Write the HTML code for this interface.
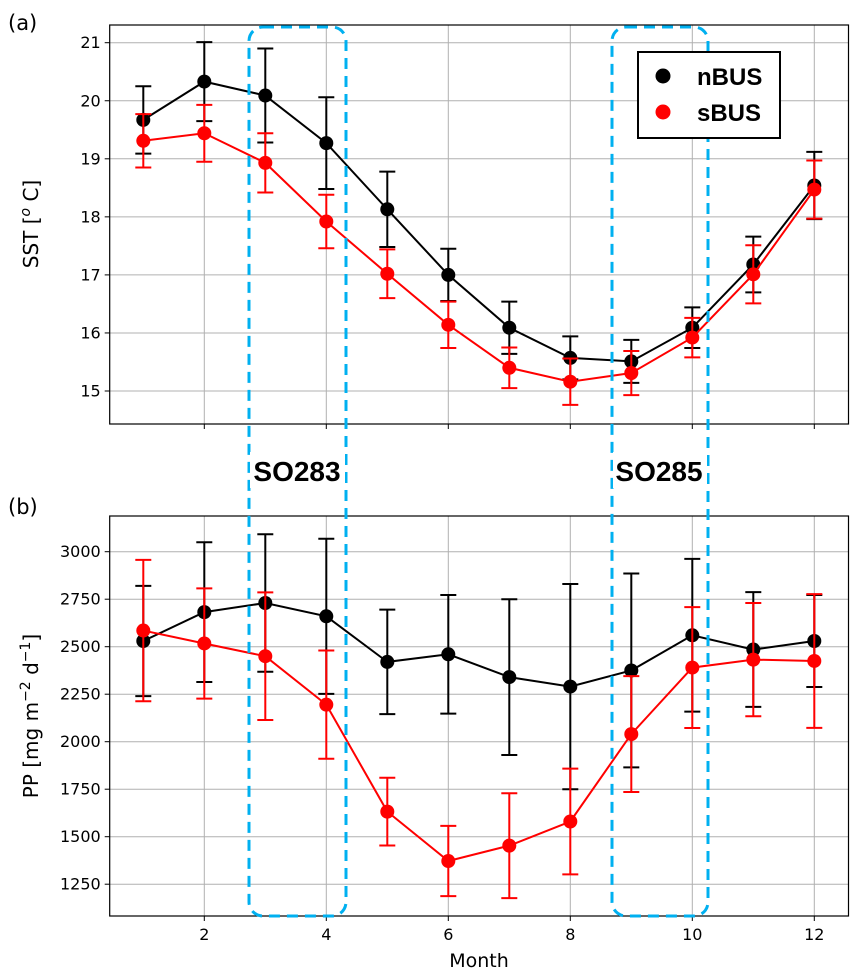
<!DOCTYPE html>
<html><head><meta charset="utf-8"><style>
body{margin:0;background:#fff}
svg{display:block;font-family:"DejaVu Sans","Liberation Sans",sans-serif}
</style></head><body>
<svg id="chart" width="862" height="980" viewBox="0 0 862 980">
<g id="gA"></g>
<g id="gB"></g>
<g id="ov"></g>
</svg>
<script>
const months=[1,2,3,4,5,6,7,8,9,10,11,12];
const sstN=[19.67,20.33,20.09,19.27,18.13,17.0,16.09,15.57,15.51,16.09,17.18,18.54];
const sstNerr=[0.58,0.68,0.81,0.79,0.65,0.45,0.45,0.37,0.37,0.35,0.48,0.58];
const sstS=[19.31,19.44,18.93,17.92,17.02,16.14,15.40,15.16,15.31,15.92,17.01,18.47];
const sstSerr=[0.46,0.49,0.51,0.46,0.42,0.40,0.35,0.40,0.38,0.34,0.50,0.50];
const ppN=[2530,2682,2730,2660,2420,2460,2340,2290,2375,2560,2485,2530];
const ppNerr=[290,368,362,408,275,312,410,540,510,402,302,242];
const ppS=[2585,2517,2450,2195,1632,1372,1453,1580,2040,2390,2432,2425];
const ppSerr=[372,290,336,285,178,185,276,278,305,318,298,352];
const xTicks=[2,4,6,8,10,12];
const sstTicks=[15,16,17,18,19,20,21];
const ppTicks=[1250,1500,1750,2000,2250,2500,2750,3000];

const NS='http://www.w3.org/2000/svg';
function mk(p,t,a,txt){const e=document.createElementNS(NS,t);for(const k in a)e.setAttribute(k,a[k]);if(txt!==undefined)e.textContent=txt;p.appendChild(e);return e;}
const L=109.7,R=848.5;
const x=m=>143.3+(m-1)*61;

function panel(g,top,bot,yf,ticks,series){
  xTicks.forEach(t=>{const l=mk(g,'line',{x1:x(t),x2:x(t),y1:top,y2:bot,stroke:'#b0b0b0','stroke-width':1});
    
    const k=mk(g,'line',{x1:x(t),x2:x(t),y1:bot,y2:bot+5,stroke:'#000','stroke-width':1});
    });
  ticks.forEach(t=>{const y=yf(t);const l=mk(g,'line',{x1:L,x2:R,y1:y,y2:y,stroke:'#b0b0b0','stroke-width':1});
    
    const k=mk(g,'line',{x1:L-5,x2:L,y1:y,y2:y,stroke:'#000','stroke-width':1});
    
    const tx=mk(g,'text',{x:L-9,y:y+5.5,'text-anchor':'end','font-size':16},String(t));
    });
  series.forEach(s=>{
    const ln=mk(g,'polyline',{points:months.map((m,i)=>x(m)+','+yf(s.v[i])).join(' '),fill:'none',stroke:s.c,'stroke-width':2});
    
    months.forEach((m,i)=>{const X=x(m),y1=yf(s.v[i]+s.e[i]),y2=yf(s.v[i]-s.e[i]);
      const eb=mk(g,'path',{d:`M${X},${y1}V${y2}M${X-8},${y1}H${X+8}M${X-8},${y2}H${X+8}`,stroke:s.c,'stroke-width':2,fill:'none'});
      });
    months.forEach((m,i)=>{const c=mk(g,'circle',{cx:x(m),cy:yf(s.v[i]),r:7,fill:s.c});
      });
  });
  const fr=mk(g,'rect',{x:L,y:top,width:R-L,height:bot-top,fill:'none',stroke:'#000','stroke-width':1.2});
  
}
const yA=v=>391+(15-v)*58.05;
const yB=v=>551.7+(3000-v)/250*47.5;
panel(document.getElementById('gA'),25,424,yA,sstTicks,[{n:'nbus',c:'#000',v:sstN,e:sstNerr},{n:'sbus',c:'#f00',v:sstS,e:sstSerr}]);
const gB=document.getElementById('gB');
panel(gB,516,916,yB,ppTicks,[{n:'nbus',c:'#000',v:ppN,e:ppNerr},{n:'sbus',c:'#f00',v:ppS,e:ppSerr}]);
xTicks.forEach(t=>{const tx=mk(gB,'text',{x:x(t),y:940,'text-anchor':'middle','font-size':16},String(t));
  });
</script>
<script>
const ov=document.getElementById('ov');
ov.innerHTML=`
<rect x="249" y="27" width="97" height="889" rx="14" fill="none" stroke="#00b0f0" stroke-width="3" stroke-dasharray="11,7"/>
<rect x="612" y="27" width="96" height="889" rx="14" fill="none" stroke="#00b0f0" stroke-width="3" stroke-dasharray="11,7"/>
<rect x="250" y="452" width="95" height="36" fill="#fff"/>
<rect x="613" y="452" width="94" height="36" fill="#fff"/>
<text x="297" y="481" text-anchor="middle" font-size="28" font-weight="bold" font-family="Liberation Sans, sans-serif">SO283</text>
<text x="659" y="481" text-anchor="middle" font-size="28" font-weight="bold" font-family="Liberation Sans, sans-serif">SO285</text>
<g>
<rect x="638" y="52" width="142" height="86" fill="#fff" stroke="#000" stroke-width="2"/>
<circle cx="663" cy="76" r="7.5" fill="#000"/><text x="697" y="85" font-size="24" font-weight="bold" font-family="Liberation Sans, sans-serif">nBUS</text>
<circle cx="663" cy="112" r="7.5" fill="#f00"/><text x="697" y="121" font-size="24" font-weight="bold" font-family="Liberation Sans, sans-serif">sBUS</text>
</g>
<text x="8" y="30" font-size="21">(a)</text>
<text x="8" y="514" font-size="21">(b)</text>
<text transform="translate(38,224) rotate(-90)" text-anchor="middle" font-size="20">SST [<tspan font-style="italic" font-size="14" dy="-8">o</tspan><tspan dy="8"> C]</tspan></text>
<text transform="translate(38,716) rotate(-90)" text-anchor="middle" font-size="20">PP [mg m<tspan font-size="14" dy="-8">−2</tspan><tspan dy="8"> d</tspan><tspan font-size="14" dy="-8">−1</tspan><tspan dy="8">]</tspan></text>
<text x="479" y="967" text-anchor="middle" font-size="19">Month</text>`;
</script>
</body></html>
